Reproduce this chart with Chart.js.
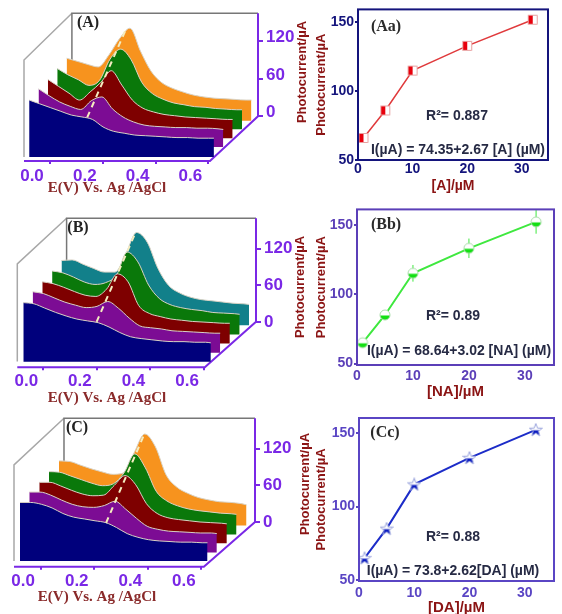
<!DOCTYPE html>
<html>
<head>
<meta charset="utf-8">
<script src="https://cdn.jsdelivr.net/npm/chart.js@4"></script>
<style>
html, body { margin: 0; padding: 0; background: #fff; }
body { position: relative; width: 562px; height: 614px; overflow: hidden; }
.box { position: absolute; }
</style>
</head>
<body>
<div class="box" style="left:0;top:0;width:320px;height:205px"><canvas id="panelA"></canvas></div>
<div class="box" style="left:0;top:205px;width:320px;height:205px"><canvas id="panelB"></canvas></div>
<div class="box" style="left:0;top:405px;width:320px;height:209px"><canvas id="panelC"></canvas></div>
<div class="box" style="left:290px;top:0;width:272px;height:205px"><canvas id="panelAa"></canvas></div>
<div class="box" style="left:290px;top:200px;width:272px;height:205px"><canvas id="panelBb"></canvas></div>
<div class="box" style="left:290px;top:405px;width:272px;height:212px"><canvas id="panelCc"></canvas></div>
<script>
// shared potential grid of the waterfall curves (V)
const potential = [0,0.04,0.08,0.12,0.16,0.2,0.24,0.28,0.32,0.36,0.4,0.44,0.48,0.52,0.56,0.6,0.64,0.68,0.7];

// (A) photocurrent, front layer first
const a1 = [91,85,79,73,67,64,60,48,41,38,35,34,33,32,31,31,30,30,30];
const a2 = [93,82,72,65,60,74,80,61,48,40,35,33,32,31,31,30,30,29,28];
const a3 = [94,83,72,61,74,89,108,85,61,48,42,38,36,34,33,32,31,30,30];
const a4 = [97,87,79,70,78,112,128,111,75,57,48,42,39,36,35,33,32,31,31];
const a5 = [100,95,90,86,105,131,148,111,79,61,52,46,41,38,36,35,34,33,33];
// (B)
const b1 = [97,95,88,81,75,70,67,64,57,48,41,38,36,34,33,33,32,32,31];
const b2 = [100,97,90,83,78,74,76,84,73,57,44,41,39,36,35,34,33,32,32];
const b3 = [101,98,92,85,79,77,89,114,101,62,49,44,40,38,36,35,34,33,33];
const b4 = [104,101,94,86,82,85,97,135,119,81,59,49,44,41,39,36,35,34,33];
const b5 = [106,107,100,93,87,87,117,152,136,93,65,53,46,42,40,38,36,35,34];
// (C)
const c1 = [96,96,93,87,78,72,69,66,63,55,45,39,35,33,32,31,31,30,30];
const c2 = [99,99,94,86,79,75,74,77,84,71,56,43,38,35,34,33,32,32,31];
const c3 = [100,100,94,87,81,78,79,95,111,96,65,49,42,39,37,35,34,33,32];
const c4 = [103,102,96,90,84,80,83,101,132,109,71,55,47,42,39,37,35,34,33];
const c5 = [106,105,99,93,88,84,86,119,150,129,83,63,53,46,42,39,38,36,34];

// calibration curves
const conc = [1,5,10,20,32];
const currentA = [66,86,115,133,152];
const currentNA = [65,85,115,133,152];
const currentDA = [65,85,115,133,152];
const errorNA = [1,3,6,7,8.5];

const potentialTicks = [0,0.2,0.4,0.6];
const waterfallTicks = [0,60,120];
const concTicks = [0,10,20,30];
const currentTicks = [50,100,150];

const navy = '#00007c', purple = '#7c0c94', maroon = '#7e0000', green = '#0a780a';
const orange = '#f7931e', teal = '#12808a';
const axisPurple = '#7a28e6', brick = '#8a2a2a', darkRed = '#8b1414';

function textPlugin(items) {
  return {
    id: 'panelText',
    afterDraw(chart) {
      const ctx = chart.ctx;
      items.forEach(t => {
        ctx.save();
        ctx.translate(t.x, t.y);
        if (t.rot) ctx.rotate(t.rot);
        ctx.font = t.font;
        ctx.fillStyle = t.color;
        ctx.textAlign = 'center';
        ctx.textBaseline = 'middle';
        ctx.fillText(t.text, 0, 0);
        ctx.restore();
      });
    }
  };
}

// grey 3D box and purple axes, placed through the scales
function boxPlugin(b) {
  return {
    id: 'box3d',
    beforeDatasetsDraw(chart) {
      const sx = chart.scales.x, sy = chart.scales.y, ctx = chart.ctx;
      const X = v => sx.getPixelForValue(v), Y = v => sy.getPixelForValue(v);
      ctx.save();
      ctx.strokeStyle = '#a8a8a8';
      ctx.lineWidth = 1.5;
      ctx.beginPath();
      ctx.moveTo(X(sx.min), Y(b.base));
      ctx.lineTo(X(sx.min), Y(b.wall));
      ctx.lineTo(X(b.back), Y(sy.max));
      ctx.stroke();
      ctx.strokeStyle = '#777';
      ctx.beginPath();
      ctx.moveTo(X(b.back), Y(b.backLow));
      ctx.lineTo(X(b.back), Y(sy.max));
      ctx.lineTo(X(sx.max), Y(sy.max));
      ctx.stroke();
      ctx.strokeStyle = axisPurple;
      ctx.lineWidth = 2;
      ctx.beginPath();
      ctx.moveTo(X(sx.min), Y(sy.min));
      ctx.lineTo(X(b.end), Y(sy.min));
      ctx.lineTo(X(sx.max), Y(0));
      ctx.lineTo(X(sx.max), Y(sy.max));
      ctx.stroke();
      ctx.restore();
    }
  };
}

function waterfall(id, p) {
  const sets = p.layers.map((vals, k) => ({
    data: vals.map((v, i) => ({ x: potential[i] + p.shiftX[k], y: v + p.shiftY[k] })),
    borderColor: '#d8d2c4',
    borderWidth: 1,
    backgroundColor: p.colors[k],
    fill: { value: p.shiftY[k] },
    pointRadius: 0,
    cubicInterpolationMode: 'monotone'
  }));
  // dashed peak shift line goes on top
  sets.unshift({
    data: p.peakLine,
    borderColor: '#f4ecc0',
    borderWidth: 2,
    borderDash: [6, 5],
    pointRadius: 0,
    fill: false
  });
  new Chart(document.getElementById(id), {
    type: 'line',
    data: { datasets: sets },
    options: {
      responsive: true,
      maintainAspectRatio: false,
      animation: false,
      layout: { padding: { left: p.left, top: p.top } },
      plugins: { legend: { display: false }, tooltip: { enabled: false }, filler: { drawTime: 'beforeDatasetDraw' } },
      scales: {
        x: {
          type: 'linear', min: p.xMin, max: p.xMax,
          afterBuildTicks: s => { s.ticks = potentialTicks.map(v => ({ value: v })); },
          afterFit: s => { s.height = p.xHeight; },
          border: { display: false },
          grid: { drawOnChartArea: false, color: axisPurple, lineWidth: 2, tickLength: 3 },
          ticks: {
            autoSkip: false, maxRotation: 0, labelOffset: p.labelShift, padding: p.xPad,
            color: axisPurple, font: { family: 'Liberation Sans', weight: 'bold', size: 17 },
            callback: v => v.toFixed(1)
          }
        },
        y: {
          position: 'right', min: p.yMin, max: p.yMax,
          afterBuildTicks: s => { s.ticks = waterfallTicks.map(v => ({ value: v })); },
          afterFit: s => { s.width = p.yWidth; },
          border: { display: false },
          grid: { drawOnChartArea: false, color: axisPurple, lineWidth: 2, tickLength: 5 },
          ticks: { padding: 3, labelOffset: p.yLabelShift, color: axisPurple, font: { family: 'Liberation Sans', weight: 'bold', size: 17 } }
        }
      }
    },
    plugins: [boxPlugin(p.box), textPlugin(p.notes)]
  });
}

function marker(kind, color, edge) {
  const c = document.createElement('canvas');
  c.width = 14; c.height = 14;
  const g = c.getContext('2d');
  const path = () => {
    g.beginPath();
    if (kind === 'square') g.rect(2.5, 2.5, 9, 9);
    if (kind === 'circle') g.arc(7, 7, 5, 0, Math.PI * 2);
    if (kind === 'star') {
      for (let i = 0; i < 10; i++) {
        const r = i % 2 ? 2.8 : 6.8, a = -Math.PI / 2 + i * Math.PI / 5;
        g.lineTo(7 + r * Math.cos(a), 7.5 + r * Math.sin(a));
      }
      g.closePath();
    }
  };
  path();
  g.fillStyle = '#fff';
  g.fill();
  g.save();
  path();
  g.clip();
  g.fillStyle = color;
  if (kind === 'square') g.fillRect(0, 0, 7, 14);
  else g.fillRect(0, 7.5, 14, 7);
  g.restore();
  path();
  g.strokeStyle = edge;
  g.lineWidth = 1;
  g.stroke();
  return c;
}

function errorPlugin(errs, color) {
  return {
    id: 'errors',
    beforeDatasetsDraw(chart) {
      if (!errs) return;
      const sx = chart.scales.x, sy = chart.scales.y, ctx = chart.ctx;
      ctx.save();
      ctx.strokeStyle = color;
      ctx.lineWidth = 1;
      chart.data.datasets[0].data.forEach((pt, i) => {
        const x = sx.getPixelForValue(pt.x);
        ctx.beginPath();
        ctx.moveTo(x, sy.getPixelForValue(pt.y - errs[i]));
        ctx.lineTo(x, sy.getPixelForValue(pt.y + errs[i]));
        ctx.stroke();
      });
      ctx.restore();
    }
  };
}

const framePlugin = {
  id: 'frame',
  afterDatasetsDraw(chart) {
    const a = chart.chartArea, ctx = chart.ctx;
    ctx.save();
    ctx.strokeStyle = chart.options.frameColor;
    ctx.lineWidth = 2;
    ctx.strokeRect(a.left, a.top, a.right - a.left, a.bottom - a.top);
    ctx.restore();
  }
};

function calibration(id, p) {
  new Chart(document.getElementById(id), {
    type: 'line',
    data: {
      datasets: [{
        data: p.values.map((v, i) => ({ x: conc[i], y: v })),
        borderColor: p.line,
        borderWidth: p.lineWidth,
        pointStyle: p.marker,
        pointRadius: 6,
        fill: false
      }]
    },
    options: {
      responsive: true,
      maintainAspectRatio: false,
      animation: false,
      frameColor: p.frame,
      layout: { padding: { left: p.left, top: p.top, right: p.right, bottom: p.bottom } },
      plugins: { legend: { display: false }, tooltip: { enabled: false } },
      scales: {
        x: {
          type: 'linear', min: 0, max: p.xMax,
          afterBuildTicks: s => { s.ticks = concTicks.map(v => ({ value: v })); },
          afterFit: s => { s.height = p.xHeight; },
          border: { display: false },
          grid: { display: false, drawTicks: false },
          ticks: { autoSkip: false, maxRotation: 0, padding: p.xPad, color: p.frame, font: { family: 'Liberation Sans', weight: 'bold', size: 14 } },
          title: { display: true, text: p.xTitle, color: darkRed, padding: 0, font: { family: 'Liberation Sans', weight: 'bold', size: p.xTitleSize } }
        },
        y: {
          min: p.yMin, max: p.yMax,
          afterBuildTicks: s => { s.ticks = currentTicks.map(v => ({ value: v })); },
          afterFit: s => { s.width = p.yWidth; },
          border: { display: false },
          grid: { drawOnChartArea: false, color: p.frame, lineWidth: 2, tickLength: 3 },
          ticks: { padding: 1, color: p.frame, font: { family: 'Liberation Sans', weight: 'bold', size: 14 } },
          title: { display: true, text: 'Photocurrent/µA', color: darkRed, padding: 0, font: { family: 'Liberation Sans', weight: 'bold', size: 13 } }
        }
      }
    },
    plugins: [errorPlugin(p.errors, p.line), framePlugin, textPlugin(p.notes)]
  });
}

const serif16 = 'bold 16px "Liberation Serif"';
const sans14 = 'bold 14px "Liberation Sans"';
const ink = '#262a44';
const outerTitle = (x, y) => ({ text: 'Photocurrent/µA', x, y, rot: -Math.PI / 2, font: 'bold 13px "Liberation Sans"', color: darkRed });
const eTitle = (x, y) => ({ text: 'E(V) Vs. Ag /AgCl', x, y, font: 'bold 15px "Liberation Serif"', color: brick });

waterfall('panelA', {
  layers: [a1, a2, a3, a4, a5],
  colors: [navy, purple, maroon, green, orange],
  shiftX: [-0.079, -0.0435, -0.008, 0.0275, 0.063],
  shiftY: [-65, -49, -35, -20.5, -7],
  peakLine: [{ x: 0.141, y: -1.6 }, { x: 0.29, y: 141.5 }],
  left: 24, top: 9, xHeight: 44, yWidth: 62, labelShift: -18, yLabelShift: -4, xPad: 2.5,
  xMin: -0.0985, xMax: 0.788, yMin: -71.5, yMax: 165,
  box: { base: -65, wall: 90, back: 0.083, backLow: 82, end: 0.606 },
  notes: [
    { text: '(A)', x: 88, y: 23, font: serif16, color: '#222' },
    eTitle(107, 188),
    outerTitle(302.7, 72)
  ]
});

waterfall('panelB', {
  layers: [b1, b2, b3, b4, b5],
  colors: [navy, purple, maroon, green, teal],
  shiftX: [-0.0746, -0.0396, -0.0037, 0.033, 0.068],
  shiftY: [-65.4, -50.6, -35.3, -20.6, -5.4],
  peakLine: [{ x: 0.199, y: 0 }, { x: 0.342, y: 144 }],
  left: 17.3, top: 12.7, xHeight: 42.7, yWidth: 64, labelShift: -17, yLabelShift: 0, xPad: 1,
  xMin: -0.097, xMax: 0.794, yMin: -74.5, yMax: 170,
  box: { base: -65, wall: 95, back: 0.087, backLow: 100, end: 0.603 },
  notes: [
    { text: '(B)', x: 78, y: 23, font: serif16, color: '#222' },
    eTitle(107, 193),
    outerTitle(300, 82)
  ]
});

waterfall('panelC', {
  layers: [c1, c2, c3, c4, c5],
  colors: [navy, purple, maroon, green, orange],
  shiftX: [-0.0772, -0.0425, -0.0052, 0.031, 0.0683],
  shiftY: [-64, -50, -35, -20.5, -5.9],
  peakLine: [{ x: 0.244, y: -1.6 }, { x: 0.385, y: 142 }],
  left: 14, top: 11, xHeight: 47.3, yWidth: 65, labelShift: -17.5, yLabelShift: 0, xPad: 1,
  xMin: -0.0996, xMax: 0.8, yMin: -73.2, yMax: 170,
  box: { base: -64, wall: 93.5, back: 0.087, backLow: 99, end: 0.609 },
  notes: [
    { text: '(C)', x: 77, y: 23, font: serif16, color: '#222' },
    eTitle(97, 192),
    outerTitle(305, 79)
  ]
});

calibration('panelAa', {
  values: currentA, line: '#e03a3c', lineWidth: 1.5, frame: '#14147c',
  marker: marker('square', '#e8000c', '#e8a0a0'),
  left: 24, top: 9, right: 14, bottom: 10, xHeight: 35, yWidth: 44, xPad: 1, xTitleSize: 14,
  xMax: 34.8, yMin: 50, yMax: 159.5, xTitle: '[A]/µM',
  notes: [
    { text: '(Aa)', x: 96, y: 27, font: serif16, color: '#2a2a2a' },
    { text: 'R²= 0.887', x: 167, y: 116, font: sans14, color: ink },
    { text: 'I(µA) = 74.35+2.67 [A] (µM)', x: 168, y: 150, font: sans14, color: ink }
  ]
});

calibration('panelBb', {
  values: currentNA, line: '#3fe83f', lineWidth: 2, frame: '#5b3fb8',
  marker: marker('circle', '#12e012', '#a8dca8'),
  errors: errorNA,
  left: 24, top: 7, right: 7, bottom: 4, xHeight: 36, yWidth: 43, xPad: 3, xTitleSize: 15,
  xMax: 35.2, yMin: 49, yMax: 161, xTitle: '[NA]/µM',
  notes: [
    { text: '(Bb)', x: 96, y: 25, font: serif16, color: '#2a2a2a' },
    { text: 'R²= 0.89', x: 163, y: 116, font: sans14, color: ink },
    { text: 'I(µA) = 68.64+3.02 [NA] (µM)', x: 169, y: 151, font: sans14, color: ink }
  ]
});

calibration('panelCc', {
  values: currentDA, line: '#1c2cc8', lineWidth: 2, frame: '#5a45c4',
  marker: marker('star', '#0a1ac0', '#9aa4dc'),
  left: 24, top: 13, right: 1, bottom: 0, xHeight: 36, yWidth: 45, xPad: 4, xTitleSize: 15,
  xMax: 35.3, yMin: 49.5, yMax: 160, xTitle: '[DA]/µM',
  notes: [
    { text: '(Cc)', x: 95, y: 28, font: serif16, color: '#2a2a2a' },
    { text: 'R²= 0.88', x: 163, y: 132, font: sans14, color: ink },
    { text: 'I(µA) = 73.8+2.62[DA] (µM)', x: 163, y: 166, font: sans14, color: ink }
  ]
});
</script>
</body>
</html>
